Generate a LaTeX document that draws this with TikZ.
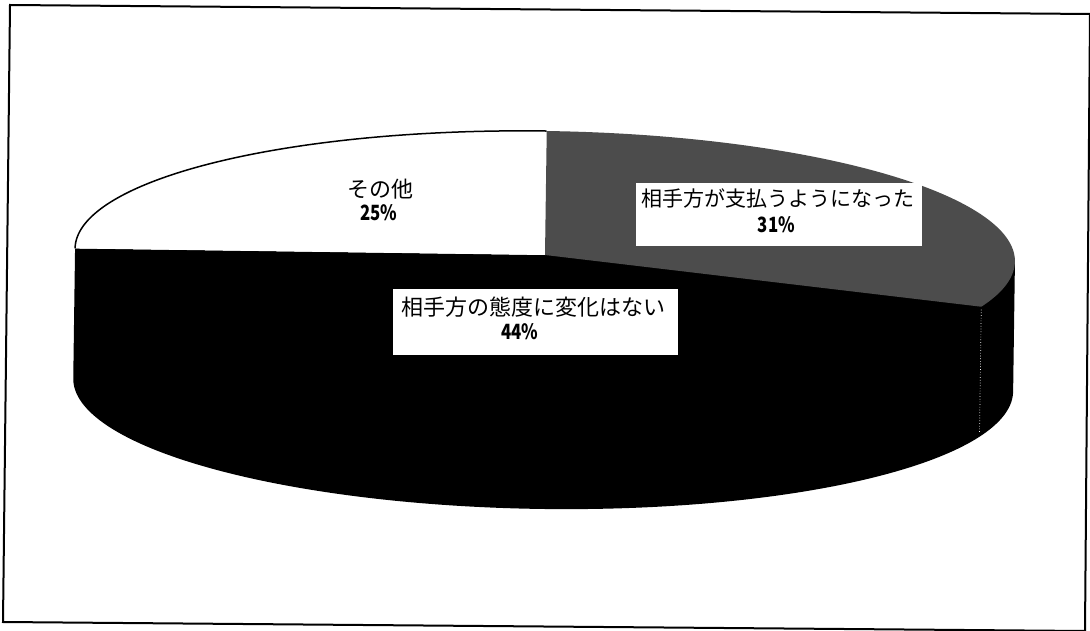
\documentclass[tikz,border=0pt]{standalone}
\usepackage{fontspec}
\newfontfamily\jp{Noto Sans CJK JP}
\definecolor{pgray}{gray}{0.3}
\tikzset{
  lblbox/.style={rectangle, fill=white, draw=none, inner sep=0pt},
  lbltext/.style={inner sep=0pt, font=\jp\fontsize{22}{22}\selectfont},
  lbltextsm/.style={inner sep=0pt, font=\jp\fontsize{21}{21}\selectfont},
  pcttext/.style={inner sep=0pt, font=\jp\bfseries\fontsize{21}{21}\selectfont},
  frame/.style={line width=2pt, line join=miter}
}
\begin{document}
\begin{tikzpicture}[x=1pt,y=-1pt]
\useasboundingbox (0,0) rectangle (1090,631);
\fill[white] (0,0) rectangle (1090,631);
% frame
\draw[frame] (10,5) -- (1090,14) -- (1085,631) -- (3,622) -- cycle;
% pie
\begin{scope}[rotate around={-0.8:(545,255)}]
  % side wall together with the front half of the top (black slice)
  \fill[black] plot[domain=0:180, samples=150, variable=\t] ({545+470*cos(\t)},{385+124*sin(\t)})
     -- (75,255) -- (545,255) -- (1015,255) -- cycle;
  % white slice 25%
  \fill[white] (545,255) -- plot[domain=180:270, samples=100, variable=\t] ({545+470*cos(\t)},{255+124*sin(\t)}) -- cycle;
  \draw[line width=1.5pt] plot[domain=180:270, samples=100, variable=\t] ({545+470*cos(\t)},{255+124*sin(\t)});
  % gray slice 31%
  \fill[pgray] (545,255) -- plot[domain=270:381.6, samples=120, variable=\t] ({545+470*cos(\t)},{255+124*sin(\t)}) -- cycle;
  % seam on the wall
  \draw[white, dotted, line width=0.7pt] ({545+470*cos(21.6)},{258+124*sin(21.6)}) -- ++(0,124);
\end{scope}
% labels
\node[lbltext] (w1) at (380,189) {その他};
\node[pcttext] (w2) at (379,212.5) {\scalebox{0.8}[1]{25\%}};
\node[lblbox, minimum width=286pt, minimum height=63pt] (gbox) at (779,214.5) {};
\node[lbltextsm] (g1) at (778,198) {相手方が支払うようになった};
\node[pcttext] (g2) at (776.5,225) {\scalebox{0.8}[1]{31\%}};
\node[lblbox, minimum width=285pt, minimum height=66pt] (bbox) at (535.5,322) {};
\node[lbltext] (b1) at (533.5,307) {相手方の態度に変化はない};
\node[pcttext] (b2) at (520,331.5) {\scalebox{0.8}[1]{44\%}};
\end{tikzpicture}
\end{document}
